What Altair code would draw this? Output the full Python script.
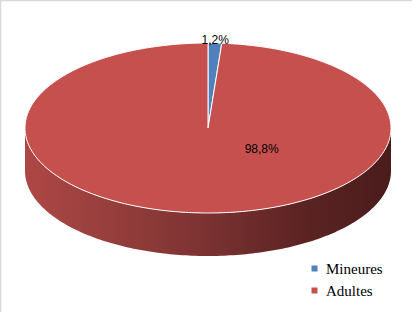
import altair as alt
import numpy as np
import pandas as pd

# ---- data ----
categories = ["Mineures", "Adultes"]
values = [1.2, 98.8]
labels = ["1,2%", "98,8%"]
colors = ["#4F81BD", "#C6504E"]

# ---- layout (pixels) ----
W, H = 412, 312
CX, CY, RX, RY, DEPTH = 208, 128, 183, 85, 43
# label anchors: angle (deg, clockwise from top) and radius fraction
label_angle = [2.2, 130.0]
label_r = [1.035, 0.383]


def ell(theta_deg, r=1.0, dy=0.0):
    t = np.radians(theta_deg)
    return CX + RX * r * np.sin(t), CY - RY * r * np.cos(t) + dy


total = sum(values)
starts = np.cumsum([0] + values[:-1]) / total * 360.0
ends = np.cumsum(values) / total * 360.0

top_rows, side_rows = [], []
for cat, s, e in zip(categories, starts, ends):
    n = max(2, int(np.ceil((e - s) / 1.0)))
    pts = [(CX, CY)] + [ell(a) for a in np.linspace(s, e, n + 1)]
    for i, (x, y) in enumerate(pts):
        top_rows.append({"cat": cat, "i": i, "x": x, "y": y})
    # front side (visible between 90 and 270 degrees)
    a0, a1 = max(s, 90.0), min(e, 270.0)
    if a1 > a0:
        m = max(2, int(np.ceil((a1 - a0) / 1.0)))
        arc = np.linspace(a0, a1, m + 1)
        pts = [ell(a) for a in arc] + [ell(a, dy=DEPTH) for a in arc[::-1]]
        for i, (x, y) in enumerate(pts):
            side_rows.append({"cat": cat, "i": i, "x": x, "y": y})

top_df = pd.DataFrame(top_rows)
side_df = pd.DataFrame(side_rows)
lab_df = pd.DataFrame(
    {
        "label": labels,
        "x": [ell(a, r)[0] for a, r in zip(label_angle, label_r)],
        "y": [ell(a, r)[1] for a, r in zip(label_angle, label_r)],
    }
)

xs = alt.Scale(domain=[0, W], range=[0, W])
ys = alt.Scale(domain=[0, H], range=[0, H])
X = lambda: alt.X("x:Q", scale=xs, axis=None)
Y = lambda: alt.Y("y:Q", scale=ys, axis=None)

side = (
    alt.Chart(side_df)
    .mark_line(
        interpolate="linear-closed",
        strokeWidth=0,
        fill=alt.Gradient(
            gradient="linear",
            x1=0, x2=1, y1=0, y2=0,
            stops=[
                alt.GradientStop(color="#AE4745", offset=0),
                alt.GradientStop(color="#973F3D", offset=0.22),
                alt.GradientStop(color="#7A3231", offset=0.5),
                alt.GradientStop(color="#5C2423", offset=0.75),
                alt.GradientStop(color="#4A1C1C", offset=1),
            ],
        ),
    )
    .encode(x=X(), y=Y(), order="i:Q", detail="cat:N")
)

top = (
    alt.Chart(top_df)
    .mark_line(interpolate="linear-closed", stroke="white", strokeWidth=1)
    .encode(
        x=X(),
        y=Y(),
        order="i:Q",
        detail="cat:N",
        fill=alt.Fill(
            "cat:N",
            scale=alt.Scale(domain=categories, range=colors),
            legend=alt.Legend(
                title=None,
                orient="none",
                legendX=307,
                legendY=261,
                symbolType="square",
                symbolSize=36,
                symbolStrokeWidth=0,
                labelFont="Liberation Serif",
                labelFontSize=15,
                labelColor="#000000",
                labelOffset=4,
                rowPadding=6,
            ),
        ),
    )
)

text = (
    alt.Chart(lab_df)
    .mark_text(font="Liberation Sans", fontSize=12, color="#000000", baseline="middle", align="center")
    .encode(x=X(), y=Y(), text="label:N")
)

border = alt.Chart(pd.DataFrame({"k": [0]})).mark_rule(color="#D9D9D9", strokeWidth=1.5)
border_top = border.encode(x=alt.value(0), x2=alt.value(W), y=alt.value(0.5))
border_left = border.encode(y=alt.value(0), y2=alt.value(H), x=alt.value(0.5))

chart = (
    alt.layer(side, top, text, border_top, border_left)
    .properties(width=W, height=H, padding=0, autosize=alt.AutoSizeParams(type="none"))
    .configure_view(stroke=None)
    .configure(background="white")
)

chart.save("out.html", embed_options={"renderer": "svg", "actions": False})
